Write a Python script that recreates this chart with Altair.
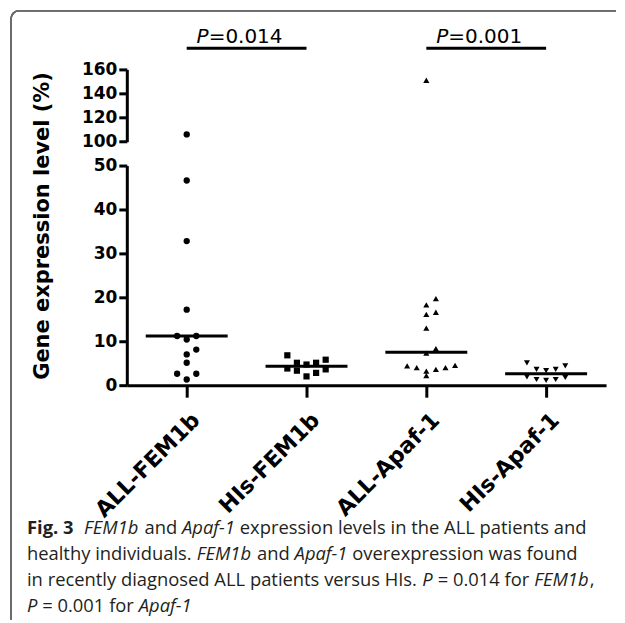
import math
import altair as alt
import pandas as pd

# ---------------- data ----------------
GROUPS = ["ALL-FEM1b", "HIs-FEM1b", "ALL-Apaf-1", "HIs-Apaf-1"]
ALL_FEM1B = [106, 46.6, 32.8, 17.2, 11.2, 11.2, 10.4, 8.1, 7.0, 5.1, 2.6, 2.6, 1.3]
HIS_FEM1B = [6.8, 5.8, 5.1, 5.1, 4.7, 3.8, 3.6, 3.3, 2.8, 2.0]
ALL_APAF1 = [151, 19.7, 18.3, 16.6, 16.1, 13.0, 8.3, 7.3, 4.5, 4.4, 4.0, 4.0, 3.6, 3.2, 2.2]
HIS_APAF1 = [5.1, 4.4, 3.6, 3.6, 3.3, 1.9, 1.75, 1.3, 1.3, 1.1]
MEDIANS = [11.2, 4.3, 7.5, 2.6]
SHAPES = ["circle", "square", "triangle-up", "triangle-down"]
COMPARISONS = [("ALL-FEM1b", "HIs-FEM1b", "0.014"), ("ALL-Apaf-1", "HIs-Apaf-1", "0.001")]
LOWER_TICKS = [0, 10, 20, 30, 40, 50]
UPPER_TICKS = [100, 120, 140, 160]
Y_TITLE = "Gene expression level (%)"

CAPTION = [
    [("Fig. 3", "b"), ("  ", "r"), ("FEM1b", "i"), (" and ", "r"), ("Apaf-1", "i"),
     (" expression levels in the ALL patients and", "r")],
    [("healthy individuals. ", "r"), ("FEM1b", "i"), (" and ", "r"), ("Apaf-1", "i"),
     (" overexpression was found", "r")],
    [("in recently diagnosed ALL patients versus HIs. ", "r"), ("P", "i"), (" = 0.014 for ", "r"),
     ("FEM1b", "i"), (",", "r")],
    [("P", "i"), (" = 0.001 for ", "r"), ("Apaf-1", "i")],
]

# ---------------- layout helpers ----------------
SLOT_STEP = 0.08      # horizontal spread of a dot, in category units
ROW_GAP = 2.2         # values closer than this share a row in the dot plot
HALF_MEDIAN = 0.342   # half length of the median bar, category units


def dot_slots(values):
    order = sorted(range(len(values)), key=lambda i: -values[i])
    rows = []
    for i in order:
        v = values[i]
        if rows and rows[-1]["top"] - v <= ROW_GAP and (rows[-1]["top"] > 50) == (v > 50):
            rows[-1]["m"].append(i)
        else:
            rows.append({"top": v, "m": [i]})
    seq = [0, 1, -1, 2, -2, 3, -3, 4, -4]
    slots = [0] * len(values)
    for r in rows:
        for k, i in enumerate(sorted(r["m"], key=lambda j: values[j])):
            slots[i] = seq[k]
    return slots


recs = []
for gi, (g, vals) in enumerate(zip(GROUPS, [ALL_FEM1B, HIS_FEM1B, ALL_APAF1, HIS_APAF1])):
    for v, s in zip(vals, dot_slots(vals)):
        recs.append({"group": g, "value": v, "x": gi + s * SLOT_STEP})
pts = pd.DataFrame(recs)
med = pd.DataFrame({"group": GROUPS, "median": MEDIANS,
                    "lo": [i - HALF_MEDIAN for i in range(4)],
                    "hi": [i + HALF_MEDIAN for i in range(4)]})
brk = pd.DataFrame({"a": [GROUPS.index(a) for a, b, p in COMPARISONS],
                    "b": [GROUPS.index(b) for a, b, p in COMPARISONS],
                    "p": ["=" + p for a, b, p in COMPARISONS]})
brk["mid"] = (brk["a"] + brk["b"]) / 2

# caption segment positions from Open Sans advance widths (em)
W = {' ': .26, '.': .266, ',': .244, '-': .322, '=': .572, 'a': .556, 'b': .613, 'c': .476, 'd': .613,
     'e': .561, 'f': .339, 'g': .548, 'h': .614, 'i': .253, 'l': .253, 'n': .614, 'o': .604, 'p': .613,
     'r': .408, 's': .477, 't': .353, 'u': .614, 'v': .501, 'w': .778, 'x': .524, 'y': .502,
     'A': .633, 'E': .561, 'F': .521, 'H': .738, 'I': .279, 'L': .531, 'M': .923, 'P': .604}
FACT = {"r": 1.0, "i": 0.95, "b": 1.07}


def em(txt, st):
    return sum(W.get(c, .572 if c.isdigit() else .55) for c in txt) * FACT[st]


LEFT_PX = -100          # caption left edge, relative to the plot area
LINE_END = 461          # right end of the first caption line
FS = (LINE_END - LEFT_PX) / sum(em(t, s) for t, s in CAPTION[0])
BASE0, LEAD = 369, 25.9
caps = []
for li, line in enumerate(CAPTION):
    cur = LEFT_PX
    for t, s in line:
        lead = len(t) - len(t.lstrip(" "))
        if t.strip():
            caps.append({"t": t.strip(), "st": s, "px": cur + em(" " * lead, s) * FS,
                         "py": BASE0 + li * LEAD})
        cur += em(t, s) * FS
cap = pd.DataFrame(caps)

# ---------------- chart ----------------
WIDTH = 480
XSCALE = alt.Scale(domain=[-0.5, 3.5], nice=False, zero=False)
FONT_AX = "DejaVu Sans"
label_expr = "[" + ",".join("'%s'" % g for g in GROUPS) + "][datum.value]"

yaxis_common = dict(labelFont=FONT_AX, labelFontWeight="bold", labelFontSize=17, labelColor="black",
                    tickColor="black", tickWidth=3, tickSize=8, domainColor="black", domainWidth=3,
                    labelPadding=2, grid=False)

shape_enc = alt.Shape("group:N", scale=alt.Scale(domain=GROUPS, range=SHAPES), legend=None)
size_enc = alt.Size("group:N", scale=alt.Scale(domain=GROUPS, range=[40, 36, 48, 48]), legend=None)

# upper segment (100-160)
up_y = alt.Y("value:Q", scale=alt.Scale(domain=[100, 160], nice=False, zero=False),
             axis=alt.Axis(values=UPPER_TICKS, title=None, **yaxis_common))
upper_pts = alt.Chart(pts).transform_filter("datum.value > 60").mark_point(
    filled=True, color="black", opacity=1).encode(
    x=alt.X("x:Q", scale=XSCALE, axis=None), y=up_y, shape=shape_enc, size=size_enc)
bracket = alt.Chart(brk).mark_rule(color="black", strokeWidth=3).encode(
    x=alt.X("a:Q", scale=XSCALE, axis=None), x2="b:Q", y=alt.value(-21.3))
p_lab = alt.Chart(brk).mark_text(text="P", font=FONT_AX, fontSize=20, fontStyle="italic",
                                 align="right", baseline="alphabetic", dx=-38, color="black").encode(
    x=alt.X("mid:Q", scale=XSCALE, axis=None), y=alt.value(-26.6))
p_val = alt.Chart(brk).mark_text(font=FONT_AX, fontSize=20, align="left", baseline="alphabetic",
                                 dx=-38, color="black").encode(
    x=alt.X("mid:Q", scale=XSCALE, axis=None), y=alt.value(-26.6), text="p:N")
upper = alt.layer(upper_pts, bracket, p_lab, p_val).properties(width=WIDTH, height=72.4)

# lower segment (0-50)
lo_y = alt.Y("value:Q", scale=alt.Scale(domain=[0, 50], nice=False, zero=False),
             axis=alt.Axis(values=LOWER_TICKS, title=Y_TITLE, titleFont=FONT_AX, titleFontSize=21,
                           titleFontWeight="bold", titleColor="black", titleX=-84, titleY=60,
                           titleAngle=270, titleAlign="center", titleBaseline="middle",
                           **yaxis_common))
x_axis = alt.Axis(values=[0, 1, 2, 3], labelExpr=label_expr, title=None, labelFont=FONT_AX,
                  labelFontWeight="bold", labelFontSize=22, labelColor="black", labelAngle=-45,
                  labelAlign="right", labelBaseline="middle", labelOffset=9, labelPadding=19,
                  labelOverlap=False, labelFlush=False, labelBound=False,
                  tickColor="black", tickWidth=3, tickSize=12, domainColor="black", domainWidth=3,
                  grid=False)
lower_pts = alt.Chart(pts).transform_filter("datum.value <= 50").mark_point(
    filled=True, color="black", opacity=1).encode(
    x=alt.X("x:Q", scale=XSCALE, axis=x_axis), y=lo_y, shape=shape_enc, size=size_enc)
med_rule = alt.Chart(med).mark_rule(color="black", strokeWidth=3).encode(
    x="lo:Q", x2="hi:Q", y=alt.Y("median:Q"))

cap_layers = []
for st, kw in [("r", {}), ("i", {"fontStyle": "italic"}), ("b", {"fontWeight": "bold"})]:
    cap_layers.append(alt.Chart(cap).transform_filter(alt.datum.st == st).mark_text(
        font="Open Sans", fontSize=FS, align="left", baseline="alphabetic", color="#231f20", **kw).encode(
        x=alt.X("px:Q", scale=None, axis=None), y=alt.Y("py:Q", scale=None, axis=None), text="t:N"))

BORDER = "#6b6b6b"
b_left = alt.Chart(med).mark_rule(color=BORDER, strokeWidth=1.5).encode(
    x=alt.value(-116), y=alt.value(-147), y2=alt.value(455))
b_top = alt.Chart(med).mark_rule(color=BORDER, strokeWidth=1.5).encode(
    x=alt.value(-108), x2=alt.value(490), y=alt.value(-155))
b_corner = alt.Chart(med).mark_arc(color=BORDER, theta=3 * math.pi / 2, theta2=2 * math.pi,
                                   radius=8.75, radius2=7.25).encode(
    x=alt.value(-108), y=alt.value(-147))

lower = alt.layer(lower_pts, med_rule, *cap_layers, b_left, b_top, b_corner).properties(
    width=WIDTH, height=220)

chart = alt.vconcat(upper, lower, spacing=23.3, bounds="flush").properties(
    padding={"left": 2, "top": 1, "right": 0, "bottom": 0}
).configure_view(stroke=None)

chart.save("out.html", embed_options={"renderer": "svg", "actions": False})
